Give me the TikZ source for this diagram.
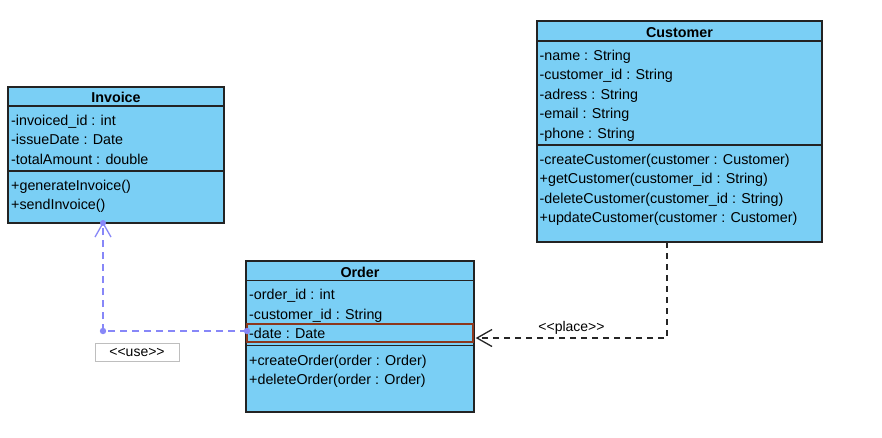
\documentclass[tikz,border=0pt]{standalone}
\usepackage{fontspec}
\newfontfamily\umlfont{Liberation Sans}
\usetikzlibrary{arrows.meta,calc}
\definecolor{classfill}{RGB}{122,207,245}
\definecolor{classline}{RGB}{35,35,35}
\definecolor{selline}{RGB}{140,55,28}
\definecolor{uselink}{RGB}{135,135,248}
\definecolor{labelframe}{RGB}{190,190,190}
\newcommand\dblangle[1]{<\kern0pt<#1>\kern0pt>}

\begin{document}
\begin{tikzpicture}[x=1pt,y=-1pt,
  classbox/.style={draw=classline, fill=classfill, line width=1.3pt,
    inner sep=0pt, outer sep=0pt, anchor=north west},
  divider/.style={draw=classline, line width=1.3pt},
  member/.style={anchor=base west, inner sep=0pt,
    font=\umlfont\fontsize{14.3}{16}\selectfont},
  classname/.style={anchor=base, inner sep=0pt,
    font=\umlfont\fontsize{14.3}{16}\selectfont\bfseries},
  selected/.style={draw=selline, line width=2pt, inner sep=0pt,
    outer sep=0pt, anchor=north west},
  uselinkstyle/.style={draw=uselink, line width=1.3pt,
    dash pattern=on 7pt off 5pt},
  placelinkstyle/.style={draw=black!85, line width=1.3pt,
    dash pattern=on 6pt off 5pt},
  linkdot/.style={fill=uselink},
  stereo/.style={inner sep=0pt, font=\umlfont\fontsize{14}{15}\selectfont},
]
\useasboundingbox (0,0) rectangle (882,437);
\fill[white] (0,0) rectangle (882,437);

% ---------- Invoice ----------
\node[classbox, minimum width=216pt, minimum height=136pt] (invoice) at (8,87) {};
\draw[divider] (8,106) -- (224,106);
\draw[divider] (8,171) -- (224,171);
\node[classname] (invoicetitle) at (116,102.5) {Invoice};
\node[member] (inv1) at (11,125) {-invoiced\_id : int};
\node[member] (inv2) at (11,144.5) {-issueDate : Date};
\node[member] (inv3) at (11,164) {-totalAmount : double};
\node[member] (inv4) at (11,190) {+generateInvoice()};
\node[member] (inv5) at (11,209.5) {+sendInvoice()};

% ---------- Customer ----------
\node[classbox, minimum width=285pt, minimum height=221pt] (customer) at (537,21) {};
\draw[divider] (537,41) -- (822,41);
\draw[divider] (537,145) -- (822,145);
\node[classname] (customertitle) at (679.5,37.5) {Customer};
\node[member] (cus1) at (539.5,60) {-name : String};
\node[member] (cus2) at (539.5,79.5) {-customer\_id : String};
\node[member] (cus3) at (539.5,99) {-adress : String};
\node[member] (cus4) at (539.5,118.5) {-email : String};
\node[member] (cus5) at (539.5,138) {-phone : String};
\node[member] (cus6) at (539.5,164) {-createCustomer(customer : Customer)};
\node[member] (cus7) at (539.5,183.5) {+getCustomer(customer\_id : String)};
\node[member] (cus8) at (539.5,203) {-deleteCustomer(customer\_id : String)};
\node[member] (cus9) at (539.5,222.5) {+updateCustomer(customer : Customer)};

% ---------- Order ----------
\node[classbox, minimum width=228pt, minimum height=151pt] (order) at (246,261) {};
\draw[divider] (246,280.5) -- (474,280.5);
\draw[divider] (246,345.5) -- (474,345.5);
\node[selected, minimum width=226pt, minimum height=18pt] (orderdate) at (247,324) {};
\node[classname] (ordertitle) at (360,277) {Order};
\node[member] (ord1) at (249,299.5) {-order\_id : int};
\node[member] (ord2) at (249,319) {-customer\_id : String};
\node[member] (ord3) at (249,338.5) {-date : Date};
\node[member] (ord4) at (249,365) {+createOrder(order : Order)};
\node[member] (ord5) at (249,384.5) {+deleteOrder(order : Order)};

% ---------- Order uses Invoice ----------
\coordinate (usecorner) at (103,331);
\coordinate (usestart) at (orderdate.west |- usecorner);
\coordinate (useend) at (usecorner |- invoice.south);
\draw[uselinkstyle] (usestart) -- (usecorner) -- (useend);
\draw[draw=uselink, line width=1.3pt]
  ($(useend)+(-8,14)$) -- (useend) -- ($(useend)+(8,14)$);
\fill[linkdot] (usestart) circle (3.2pt);
\fill[linkdot] (usecorner) circle (3.2pt);
\fill[linkdot] (useend) circle (3pt);
\node[stereo, draw=labelframe, fill=white, line width=0.8pt,
  minimum width=84pt, minimum height=18pt] (uselabel) at (137,352.5)
  {\dblangle{use}};

% ---------- Customer places Order ----------
\coordinate (placecorner) at (667,338);
\coordinate (placestart) at (customer.south -| placecorner);
\coordinate (placeend) at ($(placecorner -| order.east)+(3,0)$);
\draw[placelinkstyle] (placestart) -- (placecorner) -- (placeend);
\draw[draw=black!85, line width=1.3pt]
  ($(placeend)+(15,-8.5)$) -- (placeend) -- ($(placeend)+(15,8.5)$);
\node[stereo] (placelabel) at (571.5,328) {\dblangle{place}};
\end{tikzpicture}
\end{document}
